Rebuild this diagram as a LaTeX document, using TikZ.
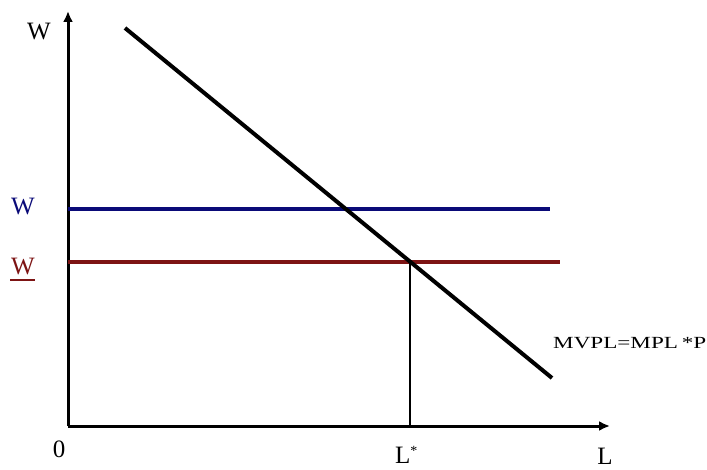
\documentclass[tikz,border=0pt]{standalone}
\usepackage{fontspec}
\setmainfont{Liberation Serif}
\usepackage{tikz}
\usetikzlibrary{positioning,arrows.meta}

\definecolor{wageblue}{RGB}{10,10,120}
\definecolor{wagered}{RGB}{125,20,20}

\begin{document}
\begin{tikzpicture}[
    x=1pt, y=-1pt,
    axis/.style={line width=3pt, -{Latex[length=11pt,width=10pt]}},
    demand/.style={line width=4pt},
    wageline/.style={line width=3.6pt},
    guide/.style={line width=1.1pt},
    lbl/.style={inner sep=0pt, anchor=base, font=\fontsize{25}{27}\selectfont}
]
\useasboundingbox (0,0) rectangle (707,470);

\coordinate (origin) at (68,426);
\coordinate (ytop) at (68,11);
\coordinate (xend) at (610,426);

\coordinate (dtop) at (125,28);
\coordinate (dbot) at (552,378);

\coordinate (wstart) at (68,209);
\coordinate (wend) at (550,209);
\coordinate (ustart) at (68,262);
\coordinate (uend) at (560,262);

\coordinate (lstar) at (410,262);
\coordinate (lbase) at (410,426);

% axes
\draw[axis] (origin) -- (ytop);
\draw[axis] (origin) -- (xend);

% wages
\draw[wageline, wageblue] (wstart) -- (wend);
\draw[wageline, wagered] (ustart) -- (uend);

% demand
\draw[demand] (dtop) -- (dbot);
\draw[guide] (lstar) -- (lbase);

\node[lbl] (ylab) at (39,40) {W};
\node[lbl, wageblue] (wlab) at (23,215) {W};
\node[lbl, wagered] (ulab) at (23,275) {W};
\draw[wagered, line width=2.2pt] ([xshift=-1pt]ulab.base west) ++(0,5) -- ++(25,0);
\node[lbl] (zero) at (59,457) {0};
\node[lbl, anchor=base west] (lslab) at (395,463) {L\raisebox{8pt}{\fontsize{14}{14}\selectfont*}};
\node[lbl] (xlab) at (605,464) {L};
\node[anchor=west, inner sep=0pt, font=\fontsize{17}{20}\selectfont] (mvpl) at (553,343)
    {\scalebox{1.36}[1]{MVPL=MPL\,*P}};

\end{tikzpicture}
\end{document}
